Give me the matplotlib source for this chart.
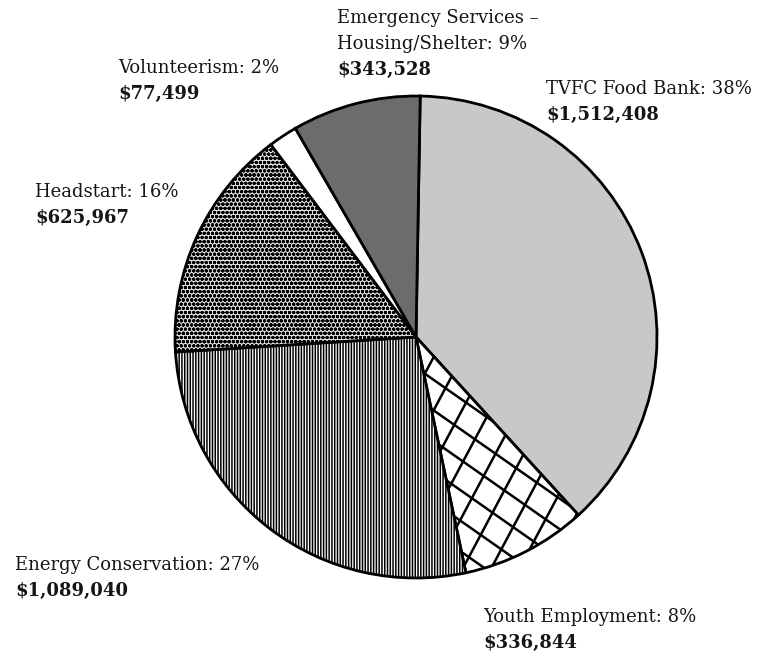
import numpy as np
import matplotlib
matplotlib.use("Agg")
import matplotlib.pyplot as plt

# Data (clockwise from top)
categories = ["TVFC Food Bank", "Youth Employment", "Energy Conservation",
              "Headstart", "Volunteerism", "Emergency Services –\nHousing/Shelter"]
amounts = [1512408, 336844, 1089040, 625967, 77499, 343528]
pct_labels = ["38%", "8%", "27%", "16%", "2%", "9%"]
amount_labels = ["$1,512,408", "$336,844", "$1,089,040", "$625,967", "$77,499", "$343,528"]

W, H = 772, 656
fig = plt.figure(figsize=(W / 100, H / 100), dpi=100)
ax = fig.add_axes([0, 0, 1, 1])
plt.rcParams['hatch.linewidth'] = 1.1

cx, cy, R = 416, H - 337, 241
faces = ["#c8c8c8", "white", "white", "#e0e0e0", "white", "#6c6c6c"]
hatches = [None, None, "||||||", "oooo..", None, None]

wedges, _ = ax.pie(amounts, startangle=89, counterclock=False, center=(cx, cy),
                   radius=R, colors=faces, frame=True,
                   wedgeprops=dict(edgecolor="black", linewidth=2))
for w, h in zip(wedges, hatches):
    if h:
        w.set_hatch(h)

# Diagonal cross-hatch for Youth Employment, clipped to its wedge
yw = wedges[1]
spacing = 25
for ang in (-35, 62):
    a = np.deg2rad(ang)
    d = np.array([np.cos(a), np.sin(a)])
    n = np.array([-d[1], d[0]])
    for k in np.arange(-30, 31):
        p0 = np.array([cx, cy]) + n * k * spacing - d * 400
        p1 = np.array([cx, cy]) + n * k * spacing + d * 400
        ln, = ax.plot([p0[0], p1[0]], [p0[1], p1[1]], color="black", lw=1.8, zorder=1.5)
        ln.set_clip_path(yw)

ax.set_xlim(0, W)
ax.set_ylim(0, H)
ax.set_aspect("equal")
ax.axis("off")

font = "DejaVu Serif"
fs = 13
# (x, y of first line in px) per category
label_pos = {
    0: (546, 89),
    1: (483, 617),
    2: (15, 565),
    3: (35, 192),
    4: (118, 68),
    5: (337, 18),
}
lh = 26
for i, (x, y) in label_pos.items():
    lines = (categories[i] + ": " + pct_labels[i]).split("\n")
    for j, line in enumerate(lines):
        ax.text(x, H - (y + j * lh), line, fontsize=fs, family=font,
                ha="left", va="center", color="#151515")
    ax.text(x, H - (y + len(lines) * lh), amount_labels[i], fontsize=fs,
            family=font, fontweight="bold", ha="left", va="center", color="#151515")

fig.savefig("out.png", dpi=100)
